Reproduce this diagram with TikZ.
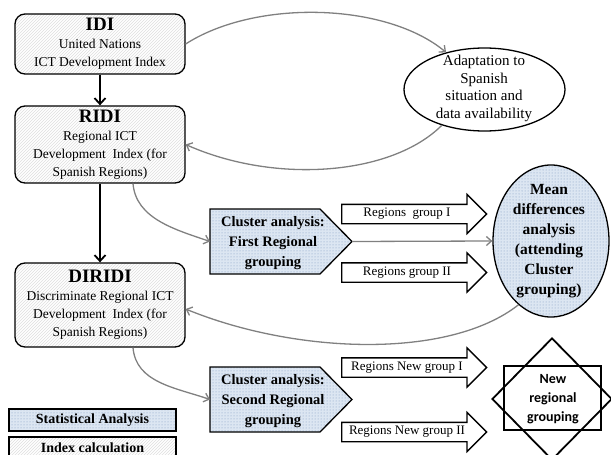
\documentclass[tikz,border=0pt]{standalone}
\usepackage{fontspec}
\setmainfont{Liberation Serif}
\newfontfamily\carlitofont{Carlito}
\usetikzlibrary{shapes.geometric,shapes.arrows,patterns,arrows.meta}
\definecolor{statfill}{HTML}{DCE6F2}
\definecolor{statdot}{HTML}{7F9CC0}
\definecolor{conncol}{HTML}{808080}
\newcommand\boxtitle{\fontsize{19}{19}\selectfont\bfseries}
\tikzset{
  idxbox/.style={draw, line width=1.3pt, rounded corners=10pt, preaction={fill=white},
    pattern=north east lines, pattern color=gray!25, minimum width=170pt, align=center,
    inner sep=0pt, font=\fontsize{13.5}{18}\selectfont},
  statfillstyle/.style={draw, line width=1.3pt, preaction={fill=statfill}, pattern=dots, pattern color=statdot},
  clustertext/.style={align=center, font=\fontsize{14.5}{20}\selectfont\bfseries},
  blk/.style={single arrow, draw, line width=1.3pt, fill=white, minimum height=145pt,
    single arrow head extend=10pt, single arrow tip angle=90, inner ysep=9pt, inner xsep=0pt, anchor=tail},
  blktext/.style={font=\fontsize{13}{14}\selectfont, inner sep=0pt},
  conn/.style={draw=conncol, line width=1.3pt, -{Straight Barb[length=5pt,width=9pt]}},
  blackarr/.style={draw=black, line width=1.8pt, -{Straight Barb[length=6pt,width=11pt]}},
}
\begin{document}
\begin{tikzpicture}[x=1pt,y=1pt]
\useasboundingbox (0,0) rectangle (611,-455);

% index boxes
\node[idxbox, minimum height=60pt] (idi) at (100,-44) {{\boxtitle IDI}\\United Nations\\ICT Development Index};
\node[idxbox, minimum height=77pt] (ridi) at (100,-144.5) {{\boxtitle RIDI}\\Regional ICT\\Development\ \ Index (for\\Spanish Regions)};
\node[idxbox, minimum height=84pt] (diridi) at (100,-305) {{\boxtitle DIRIDI}\\Discriminate Regional ICT\\Development\ \ Index (for\\Spanish Regions)};

% adaptation ellipse
\node[draw, ellipse, line width=1.3pt, minimum width=161pt, minimum height=83pt, inner sep=0pt] (ada) at (484.5,-89.5) {};
\node[align=center, font=\fontsize{15}{17.7}\selectfont] (adat) at (484,-88.5) {Adaptation to\\Spanish\\situation and\\data availability};

% mean ellipse
\node[statfillstyle, ellipse, minimum width=116pt, minimum height=152pt, inner sep=0pt] (mean) at (551,-241) {};
\node[align=center, font=\fontsize{15.5}{20}\selectfont\bfseries] (meant) at (549,-241.5) {Mean\\differences\\analysis\\(attending\\Cluster\\grouping)};

% cluster shapes
\draw[statfillstyle] (210,-209) -- (320,-209) -- (352,-241.5) coordinate (c1e) -- (320,-274) -- (210,-274) -- (210,-241.5) coordinate (c1w) -- cycle;
\node[clustertext] (c1t) at (273,-243) {Cluster analysis:\\First Regional\\grouping};
\draw[statfillstyle] (210,-367) -- (320,-367) -- (352,-399.5) coordinate (c2e) -- (320,-432) -- (210,-432) -- (210,-399.5) coordinate (c2w) -- cycle;
\node[clustertext] (c2t) at (273,-401) {Cluster analysis:\\Second Regional\\grouping};

% block arrows
\node[blk] (ga1) at (341,-214) {};
\node[blktext] (ga1t) at ([xshift=66pt]ga1.tail) {Regions\ \ group I};
\node[blk] (ga2) at (341,-272.5) {};
\node[blktext] (ga2t) at ([xshift=66pt]ga2.tail) {Regions group II};
\node[blk] (gn1) at (341,-367.5) {};
\node[blktext] (gn1t) at ([xshift=66pt]gn1.tail) {Regions New group I};
\node[blk] (gn2) at (341,-432) {};
\node[blktext] (gn2t) at ([xshift=66pt]gn2.tail) {Regions New group II};

% new regional grouping
\node[draw, diamond, line width=1.8pt, minimum width=120pt, minimum height=122pt, inner sep=0pt] (dia) at (552,-399) {};
\node[draw, line width=1.8pt, minimum width=97pt, minimum height=64pt, inner sep=0pt] (newg) at (552.5,-398) {};
\node[align=center, font=\carlitofont\bfseries\fontsize{14}{19}\selectfont] (newt) at (553,-399) {New\\regional\\grouping};

% legend
\node[statfillstyle, minimum width=167pt, minimum height=22pt, inner sep=0pt, font=\fontsize{14}{16}\selectfont\bfseries] (leg1) at (92.5,-420) {Statistical Analysis};
\node[draw, line width=1.3pt, preaction={fill=white}, pattern=north east lines, pattern color=gray!25, minimum width=167pt, minimum height=22pt, inner sep=0pt, font=\fontsize{14}{16}\selectfont\bfseries] (leg2) at (92.5,-448) {Index calculation};

% black arrows
\draw[blackarr] (idi.south) -- (ridi.north);
\draw[blackarr] (ridi.south) -- (diridi.north);

% grey connectors
\draw[conn] (idi.east) .. controls +(70,45) and +(-60,50) .. (ada.136);
\draw[conn] (ada.220) .. controls +(-50,-50) and +(90,-40) .. (ridi.east);
\draw[conn] ([xshift=33pt]ridi.south) .. controls +(3,-35) and +(-35,12) .. (c1w);
\draw[conn] (c1e) -- (mean.west);
\draw[conn] (mean.243) .. controls +(-70,-55) and +(110,-45) .. ([yshift=-4pt]diridi.east);
\draw[conn] ([xshift=33pt]diridi.south) .. controls +(3,-35) and +(-35,12) .. (c2w);
\end{tikzpicture}
\end{document}
